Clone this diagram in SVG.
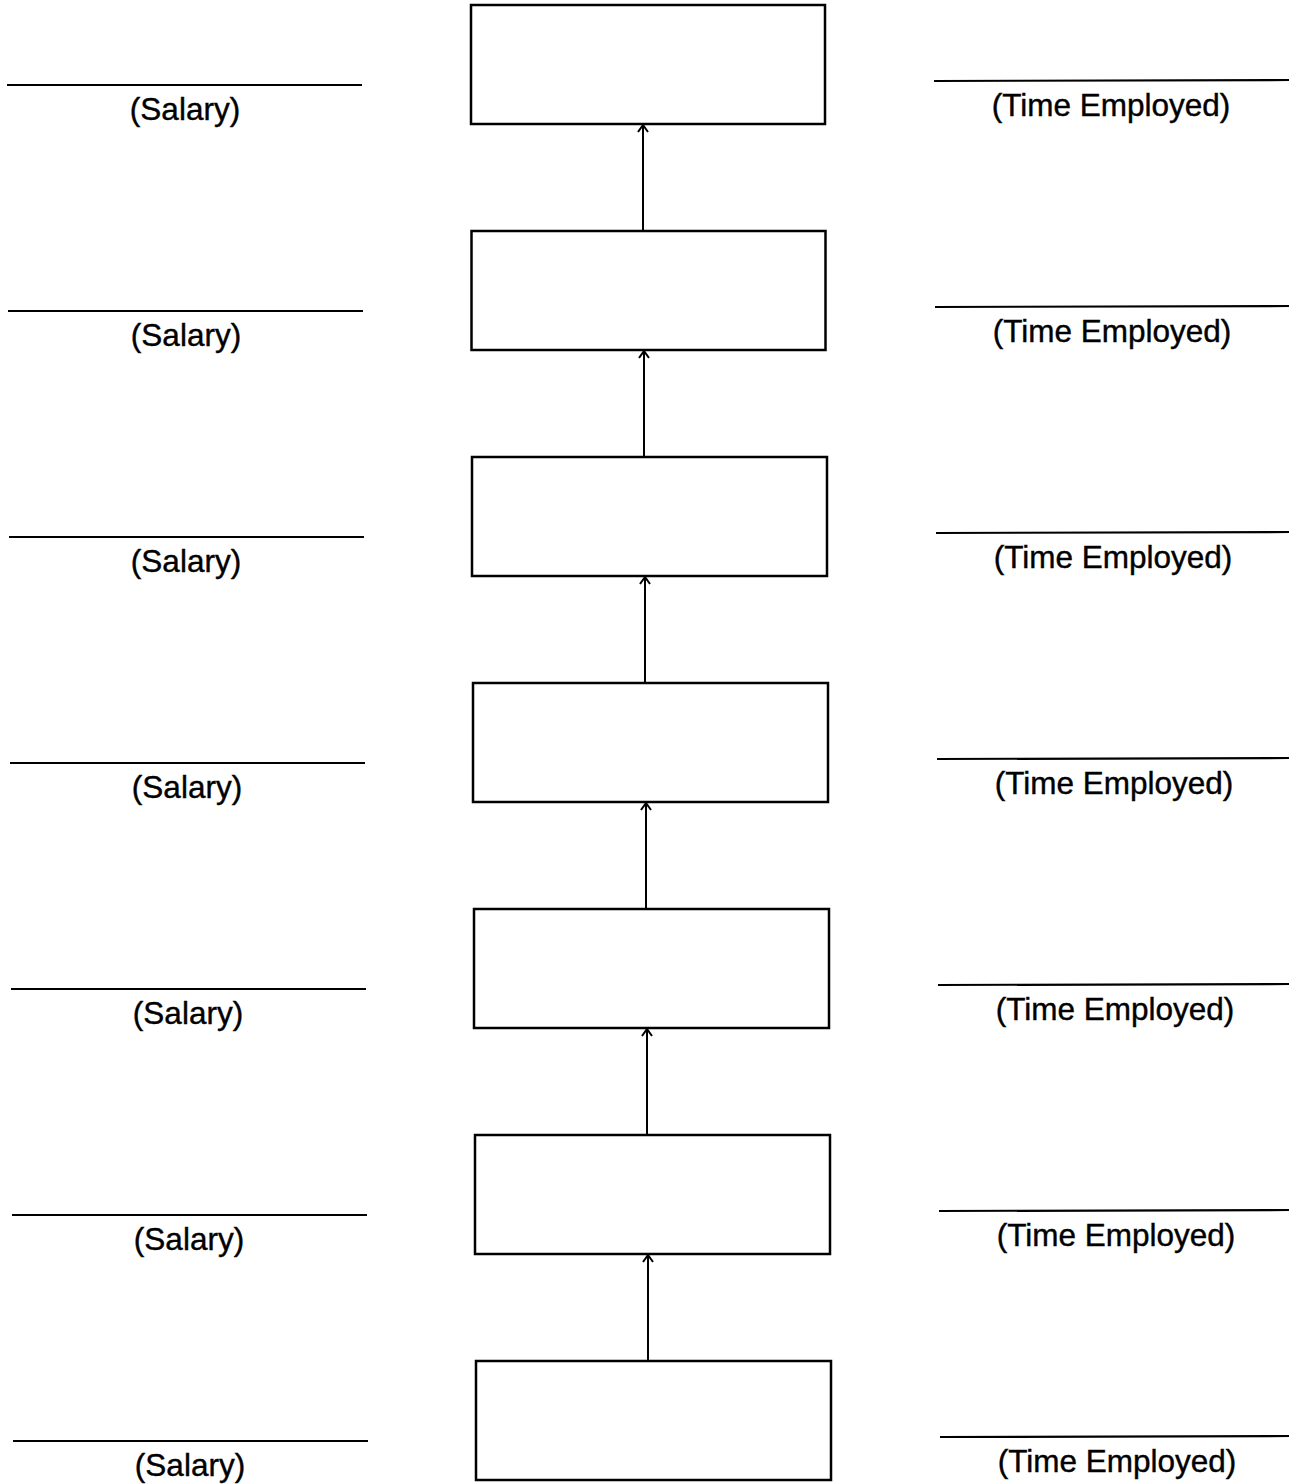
<svg xmlns="http://www.w3.org/2000/svg" width="1289" height="1484" viewBox="0 0 1289 1484">
<defs>
<marker id="ah" viewBox="0 0 12 12" refX="11" refY="6" markerWidth="12" markerHeight="12" markerUnits="userSpaceOnUse" orient="auto">
<path d="M4,1 L11,6 L4,11" fill="none" stroke="#000" stroke-width="2"/>
</marker>
<style>
.box{fill:#fff;stroke:#000;stroke-width:2.5}
.rule{stroke:#000;stroke-width:2.2}
.arr{stroke:#000;stroke-width:2;fill:none}
.lbl{font-family:"Liberation Sans",Arial,sans-serif;font-size:31.5px;fill:#000;text-anchor:middle;stroke:#000;stroke-width:0.4}
</style>
</defs>
<rect width="1289" height="1484" fill="#fff"/>
<g id="connectors">
<line class="arr" x1="643" y1="231" x2="643" y2="125" marker-end="url(#ah)"/>
<line class="arr" x1="644" y1="457" x2="644" y2="351" marker-end="url(#ah)"/>
<line class="arr" x1="645" y1="683" x2="645" y2="577" marker-end="url(#ah)"/>
<line class="arr" x1="646" y1="909" x2="646" y2="803" marker-end="url(#ah)"/>
<line class="arr" x1="647" y1="1135" x2="647" y2="1029" marker-end="url(#ah)"/>
<line class="arr" x1="648" y1="1361" x2="648" y2="1255" marker-end="url(#ah)"/>
</g>
<g id="node1"><rect class="box" x="471" y="5" width="354" height="119"/></g>
<g id="node2"><rect class="box" x="471.5" y="231" width="354" height="119"/></g>
<g id="node3"><rect class="box" x="472" y="457" width="355" height="119"/></g>
<g id="node4"><rect class="box" x="473" y="683" width="355" height="119"/></g>
<g id="node5"><rect class="box" x="474" y="909" width="355" height="119"/></g>
<g id="node6"><rect class="box" x="475" y="1135" width="355" height="119"/></g>
<g id="node7"><rect class="box" x="476" y="1361" width="355" height="119"/></g>
<g id="salary">
<line class="rule" x1="7" y1="85" x2="362" y2="85"/><text class="lbl" x="185" y="120">(Salary)</text>
<line class="rule" x1="8" y1="311" x2="363" y2="311"/><text class="lbl" x="186" y="346">(Salary)</text>
<line class="rule" x1="9" y1="537" x2="364" y2="537"/><text class="lbl" x="186" y="572">(Salary)</text>
<line class="rule" x1="10" y1="763" x2="365" y2="763"/><text class="lbl" x="187" y="798">(Salary)</text>
<line class="rule" x1="11" y1="989" x2="366" y2="989"/><text class="lbl" x="188" y="1024">(Salary)</text>
<line class="rule" x1="12" y1="1215" x2="367" y2="1215"/><text class="lbl" x="189" y="1250">(Salary)</text>
<line class="rule" x1="13" y1="1441" x2="368" y2="1441"/><text class="lbl" x="190" y="1476">(Salary)</text>
</g>
<g id="time">
<line class="rule" x1="934" y1="81" x2="1289" y2="80"/><text class="lbl" x="1111" y="116">(Time Employed)</text>
<line class="rule" x1="935" y1="307" x2="1289" y2="306"/><text class="lbl" x="1112" y="342">(Time Employed)</text>
<line class="rule" x1="936" y1="533" x2="1289" y2="532"/><text class="lbl" x="1113" y="568">(Time Employed)</text>
<line class="rule" x1="937" y1="759" x2="1289" y2="758"/><text class="lbl" x="1114" y="794">(Time Employed)</text>
<line class="rule" x1="938" y1="985" x2="1289" y2="984"/><text class="lbl" x="1115" y="1020">(Time Employed)</text>
<line class="rule" x1="939" y1="1211" x2="1289" y2="1210"/><text class="lbl" x="1116" y="1246">(Time Employed)</text>
<line class="rule" x1="940" y1="1437" x2="1289" y2="1436"/><text class="lbl" x="1117" y="1472">(Time Employed)</text>
</g>
</svg>
